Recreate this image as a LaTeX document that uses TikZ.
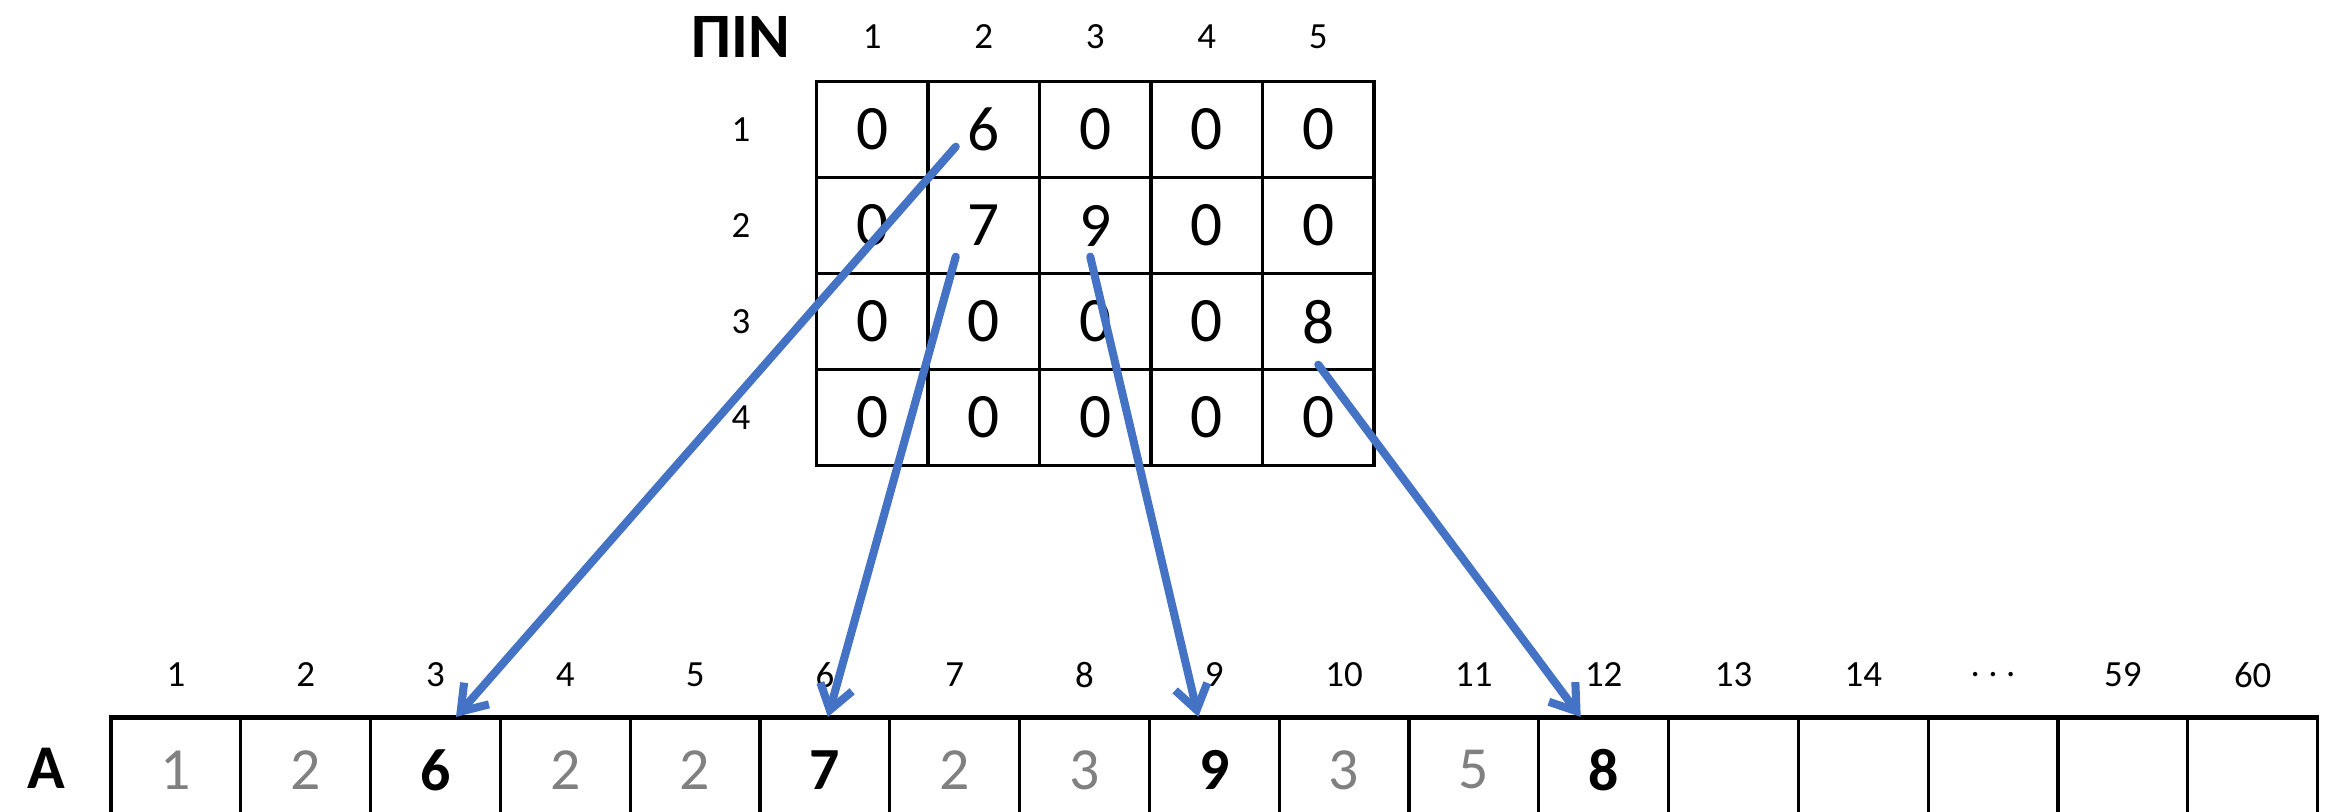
\documentclass[tikz,border=0pt]{standalone}
\usepackage{fontspec}
\setmainfont{Carlito}
\usetikzlibrary{arrows.meta}

\definecolor{linkblue}{HTML}{4472C4}
\definecolor{oldgray}{HTML}{808080}

\begin{document}
\begin{tikzpicture}[>={Straight Barb[length=2.4mm,width=3.3mm]},
    cell/.style={draw,line width=0.9pt,minimum width=1.115cm,minimum height=0.96cm,inner sep=0pt,font=\fontsize{18}{18}\selectfont},
    slot/.style={draw,line width=0.9pt,minimum width=1.298cm,minimum height=1.03cm,inner sep=0pt,font=\fontsize{17}{17}\selectfont},
    numgray/.style={text=oldgray},
    numbold/.style={font=\fontsize{17}{17}\selectfont\bfseries},
    idx/.style={font=\fontsize{10.5}{10.5}\selectfont},
    link/.style={->,linkblue,line width=2.3pt,line cap=round}]
  \clip (0,0) rectangle (23.27,8.12);

  \node[font=\fontsize{18}{18}\selectfont\bfseries] (pin) at (7.41,7.75) {ΠΙΝ};
  \foreach \row [count=\i] in {{0,6,0,0,0},{0,7,9,0,0},{0,0,0,0,8},{0,0,0,0,0}}
    \foreach \v [count=\j] in \row
      \node[cell] (m-\i-\j) at ({8.165+(\j-0.5)*1.115},{7.303-(\i-0.5)*0.96}) {\v};
  \foreach \j in {1,...,5}
    \node[idx] (mc-\j) at ({8.165+(\j-0.5)*1.115},7.753) {\j};
  \foreach \i in {1,...,4}
    \node[idx] (mr-\i) at (7.41,{7.303-(\i-0.5)*0.96}) {\i};

  \node[font=\fontsize{17.7}{18}\selectfont\bfseries] (alabel) at (0.46,0.44) {A};
  \foreach \v/\s [count=\k] in {1/numgray,2/numgray,6/numbold,2/numgray,2/numgray,7/numbold,2/numgray,3/numgray,9/numbold,3/numgray,5/numgray,8/numbold}
    \node[slot,\s] (a-\k) at ({1.11+(\k-0.5)*1.298},0.42) {\v};
  \foreach \k in {13,...,17}
    \node[slot] (a-\k) at ({1.11+(\k-0.5)*1.298},0.42) {};
  \foreach \t [count=\k] in {1,2,3,4,5,6,7,8,9,10,11,12,13,14,.\hspace{2.4pt}.\hspace{2.4pt}.,59,60}
    \node[idx] (ac-\k) at ({1.11+(\k-0.5)*1.298},1.37) {\t};
  \draw[line width=1.2pt] (a-1.north west) -- (a-17.north east);

  \draw[link] ([shift={(-0.28,-0.17)}]m-1-2.center) -- ([xshift=0.205cm]a-3.north);
  \draw[link] ([shift={(-0.28,-0.31)}]m-2-2.center) -- ([xshift=0.03cm]a-6.north);
  \draw[link] ([shift={(-0.05,-0.31)}]m-2-3.center) -- ([xshift=-0.16cm]a-9.north);
  \draw[link] ([shift={(0,-0.43)}]m-3-5.center) -- ([xshift=-0.23cm]a-12.north);
\end{tikzpicture}
\end{document}
